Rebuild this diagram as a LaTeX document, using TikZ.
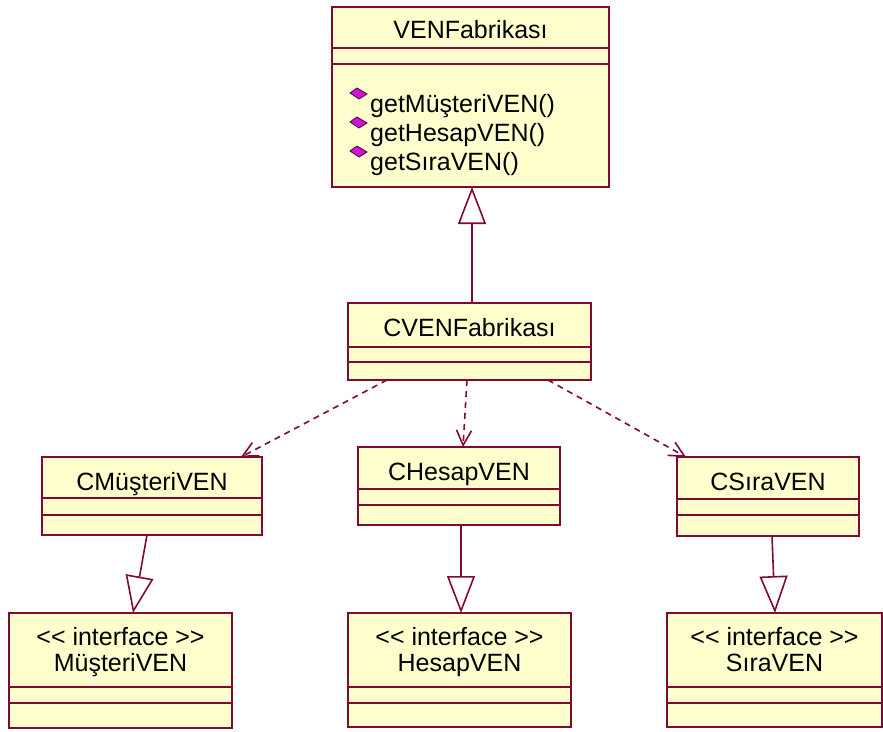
\documentclass[tikz,border=0pt]{standalone}
\usepackage{fontspec}
\setmainfont{Liberation Sans}
\usetikzlibrary{arrows.meta}
\definecolor{umlborder}{RGB}{130,10,50}
\definecolor{umlfill}{RGB}{255,255,206}
\definecolor{iconfill}{RGB}{210,20,210}
\definecolor{icondraw}{RGB}{70,0,70}

\newcommand\umlclass[7]{% name, x1, y1, x2, y2, line1, line2
  \node[classbox, anchor=north west, minimum width={#4pt-#2pt}, minimum height={#5pt-#3pt}] (#1) at (#2,#3) {};
  \draw[classline] (#1.west |- 0,#6) -- (#1.east |- 0,#6);
  \draw[classline] (#1.west |- 0,#7) -- (#1.east |- 0,#7);
}
\newcommand\stereo{<\kern0pt< interface >\kern0pt>}

\begin{document}
\begin{tikzpicture}[x=1pt,y=-1pt,
  classbox/.style={draw=umlborder, fill=umlfill, line width=1.6pt, inner sep=0pt, outer sep=0pt},
  classline/.style={draw=umlborder, line width=1.6pt},
  classtext/.style={font=\fontsize{25}{28}\selectfont, inner sep=0pt, anchor=base},
  methodtext/.style={font=\fontsize{25}{28}\selectfont, inner sep=0pt, anchor=base west},
  gen/.style={draw=umlborder, line width=1.6pt, -{Triangle[open,length=37pt,width=28pt]}},
  dep/.style={draw=umlborder, line width=1.6pt, dash pattern=on 6pt off 5pt, -{Straight Barb[length=15pt,width=15pt]}},
  icon/.style={fill=iconfill, draw=icondraw, line width=0.8pt}]

\fill[white] (0,0) rectangle (883,731);
\useasboundingbox (0,0) rectangle (883,731);

% classes
\umlclass{venf}{332}{7}{609}{187}{48}{64}
\umlclass{cven}{348}{303}{591}{380}{347}{362}
\umlclass{cmus}{42}{457}{262}{535}{498}{515}
\umlclass{chesap}{358}{447}{560}{525}{489}{505}
\umlclass{csira}{677}{457}{859}{536}{499}{515}
\umlclass{mint}{9}{613}{232}{728}{687}{703}
\umlclass{hint}{348}{613}{571}{727}{687}{703}
\umlclass{sint}{667}{613}{882}{727}{687}{703}

% texts
\node[classtext] (venf-t) at (470.5,38) {VENFabrikası};
\node[methodtext] (m1) at (370,112) {getMüşteriVEN()};
\node[methodtext] (m2) at (370,141) {getHesapVEN()};
\node[methodtext] (m3) at (370,170) {getSıraVEN()};
\foreach \yy in {94,123,152}{
  \filldraw[icon] (350,\yy-1) -- (357,\yy-6) -- (367,\yy) -- (359,\yy+5) -- cycle;
}
\node[classtext] (cven-t) at (469.5,336) {CVENFabrikası};
\node[classtext] (cmus-t) at (152,490) {CMüşteriVEN};
\node[classtext] (chesap-t) at (459,480) {CHesapVEN};
\node[classtext] (csira-t) at (768,490) {CSıraVEN};
\node[classtext] (mint-s) at (120.5,645) {\stereo};
\node[classtext] (mint-t) at (120.5,671) {MüşteriVEN};
\node[classtext] (hint-s) at (459.5,645) {\stereo};
\node[classtext] (hint-t) at (459.5,671) {HesapVEN};
\node[classtext] (sint-s) at (774.5,645) {\stereo};
\node[classtext] (sint-t) at (774.5,671) {SıraVEN};

% generalizations
\draw[gen] ([xshift=2.5pt]cven.north) -- ([xshift=1.5pt]venf.south);
\draw[gen] ([xshift=-5pt]cmus.south) -- ([xshift=12.5pt]mint.north);
\draw[gen] ([xshift=2pt]chesap.south) -- ([xshift=1.5pt]hint.north);
\draw[gen] ([xshift=4pt]csira.south) -- ([xshift=0.5pt]sint.north);

% dependencies
\draw[dep] ([xshift=-82.5pt]cven.south) -- ([xshift=-21pt]cmus.north east);
\draw[dep] ([xshift=-2.5pt]cven.south) -- ([xshift=4pt]chesap.north);
\draw[dep] ([xshift=78.5pt]cven.south) -- ([xshift=9pt]csira.north west);
\end{tikzpicture}
\end{document}
